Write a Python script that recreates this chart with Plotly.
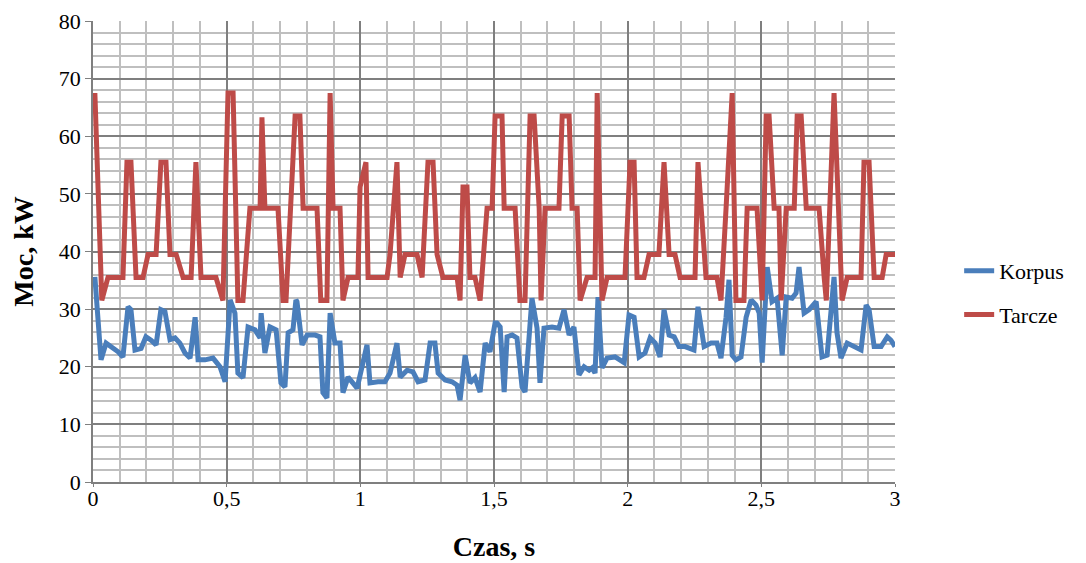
import plotly.graph_objects as go

# Korpus (blue) series: time [s], power [kW]
korpus_t = [0.007, 0.030, 0.049, 0.067, 0.094, 0.112, 0.131, 0.142, 0.157, 0.180, 0.198, 0.217, 0.236,
            0.254, 0.269, 0.288, 0.307, 0.325, 0.344, 0.363, 0.382, 0.393, 0.419, 0.449, 0.475, 0.494,
            0.513, 0.531, 0.542, 0.561, 0.580, 0.606, 0.625, 0.629, 0.643, 0.662, 0.685, 0.703, 0.718,
            0.730, 0.748, 0.759, 0.763, 0.782, 0.801, 0.831, 0.849, 0.860, 0.875, 0.887, 0.905, 0.924,
            0.935, 0.954, 0.988, 1.025, 1.036, 1.066, 1.092, 1.111, 1.137, 1.149, 1.175, 1.197, 1.216,
            1.242, 1.261, 1.279, 1.291, 1.317, 1.343, 1.362, 1.373, 1.392, 1.410, 1.429, 1.448, 1.467,
            1.485, 1.504, 1.511, 1.523, 1.538, 1.549, 1.568, 1.586, 1.605, 1.616, 1.642, 1.661, 1.672,
            1.687, 1.717, 1.743, 1.762, 1.781, 1.799, 1.818, 1.837, 1.856, 1.867, 1.878, 1.889, 1.904,
            1.923, 1.953, 1.987, 2.005, 2.024, 2.043, 2.065, 2.084, 2.103, 2.121, 2.136, 2.155, 2.174,
            2.192, 2.215, 2.248, 2.263, 2.286, 2.312, 2.334, 2.349, 2.368, 2.379, 2.391, 2.405, 2.424,
            2.443, 2.462, 2.480, 2.492, 2.503, 2.522, 2.540, 2.559, 2.578, 2.593, 2.615, 2.630, 2.641,
            2.660, 2.679, 2.705, 2.727, 2.746, 2.761, 2.772, 2.783, 2.798, 2.821, 2.847, 2.873, 2.892,
            2.903, 2.922, 2.948, 2.971, 2.985, 3.000]
korpus_p = [35.6, 21.2, 24.1, 23.5, 22.6, 21.7, 30.4, 29.9, 22.9, 23.2, 25.2, 24.6, 23.8,
            29.9, 29.6, 24.7, 25.0, 24.1, 22.4, 21.5, 28.6, 21.2, 21.2, 21.5, 20.0, 17.4,
            31.6, 29.3, 18.9, 18.1, 26.9, 26.4, 25.0, 29.3, 22.4, 26.9, 26.4, 17.2, 16.5,
            25.9, 26.4, 31.6, 31.3, 23.8, 25.5, 25.5, 25.2, 15.5, 14.6, 29.3, 24.1, 24.1,
            15.5, 18.2, 16.3, 23.8, 17.2, 17.4, 17.4, 18.9, 24.1, 18.2, 19.4, 19.1, 17.4,
            17.7, 24.1, 24.1, 18.9, 17.7, 17.4, 16.8, 14.2, 22.0, 17.2, 18.1, 15.6, 24.1,
            22.6, 27.6, 27.6, 26.9, 15.6, 25.2, 25.5, 25.0, 16.5, 15.6, 31.9, 26.7, 17.2,
            26.7, 26.9, 26.7, 29.9, 25.5, 26.9, 18.6, 20.0, 19.4, 19.8, 18.9, 32.1, 19.8,
            21.5, 21.7, 20.7, 29.0, 28.6, 21.7, 22.4, 25.0, 24.1, 21.7, 29.9, 25.5, 25.2,
            23.5, 23.5, 22.9, 30.4, 23.5, 24.1, 24.1, 21.5, 28.6, 35.1, 22.0, 21.2, 21.7,
            28.6, 31.6, 30.7, 29.3, 20.7, 37.3, 31.3, 31.9, 22.0, 32.1, 31.9, 32.8, 37.3,
            29.3, 29.9, 31.3, 21.7, 22.0, 30.4, 35.6, 25.9, 21.5, 24.1, 23.5, 22.9, 30.7,
            29.9, 23.5, 23.5, 25.2, 24.6, 23.5]

# Tarcze (red) series: time [s], power [kW]
tarcze_t = [0.007, 0.033, 0.056, 0.112, 0.127, 0.142, 0.161, 0.187, 0.206, 0.236, 0.254, 0.273, 0.288,
            0.311, 0.337, 0.367, 0.385, 0.404, 0.460, 0.486, 0.505, 0.524, 0.542, 0.561, 0.587, 0.625,
            0.632, 0.643, 0.692, 0.711, 0.722, 0.737, 0.756, 0.774, 0.786, 0.838, 0.852, 0.875, 0.887,
            0.898, 0.924, 0.935, 0.954, 0.991, 0.999, 1.021, 1.029, 1.100, 1.111, 1.137, 1.149, 1.167,
            1.212, 1.231, 1.253, 1.272, 1.287, 1.309, 1.362, 1.373, 1.384, 1.399, 1.410, 1.429, 1.448,
            1.474, 1.493, 1.504, 1.530, 1.538, 1.579, 1.597, 1.616, 1.635, 1.650, 1.669, 1.676, 1.691,
            1.743, 1.755, 1.781, 1.792, 1.811, 1.822, 1.848, 1.878, 1.886, 1.904, 1.923, 1.990, 2.009,
            2.024, 2.035, 2.061, 2.080, 2.117, 2.136, 2.155, 2.177, 2.196, 2.252, 2.263, 2.293, 2.334,
            2.349, 2.368, 2.391, 2.405, 2.435, 2.447, 2.484, 2.503, 2.518, 2.529, 2.548, 2.566, 2.574,
            2.593, 2.623, 2.634, 2.649, 2.668, 2.716, 2.735, 2.743, 2.772, 2.802, 2.821, 2.873, 2.884,
            2.903, 2.922, 2.952, 2.967, 3.000]
tarcze_p = [67.5, 31.5, 35.5, 35.5, 55.5, 55.5, 35.5, 35.5, 39.5, 39.5, 55.5, 55.5, 39.5,
            39.5, 35.5, 35.5, 55.5, 35.5, 35.5, 31.5, 67.5, 67.5, 31.5, 31.5, 47.5, 47.5,
            63.3, 47.5, 47.5, 31.5, 31.5, 47.5, 63.5, 63.5, 47.5, 47.5, 31.5, 31.5, 67.5,
            47.5, 47.5, 31.5, 35.5, 35.5, 51.2, 55.5, 35.5, 35.5, 39.5, 55.5, 35.5, 39.5,
            39.5, 35.5, 55.5, 55.5, 39.5, 35.5, 35.5, 31.5, 51.2, 51.2, 35.5, 35.5, 31.5,
            47.5, 47.5, 63.5, 63.5, 47.5, 47.5, 31.5, 31.5, 63.5, 63.5, 47.5, 31.5, 47.5,
            47.5, 63.5, 63.5, 47.5, 47.5, 31.5, 35.5, 35.5, 67.5, 31.5, 35.5, 35.5, 55.5,
            55.5, 35.5, 35.5, 39.5, 39.5, 55.5, 39.5, 39.5, 35.5, 35.5, 55.5, 35.5, 35.5,
            31.5, 47.5, 67.5, 31.5, 31.5, 47.5, 47.5, 31.5, 63.5, 63.5, 47.5, 47.5, 31.5,
            47.5, 47.5, 63.5, 63.5, 47.5, 47.5, 35.5, 31.5, 67.5, 31.5, 35.5, 35.5, 55.5,
            55.5, 35.5, 35.5, 39.5, 39.5]

x_tickvals = [0, 0.5, 1, 1.5, 2, 2.5, 3]
x_ticktext = ["0", "0,5", "1", "1,5", "2", "2,5", "3"]
y_tickvals = [0, 10, 20, 30, 40, 50, 60, 70, 80]

FONT = "Liberation Serif"
BLUE = "#4A7EBB"
RED = "#BE4B48"

fig = go.Figure()
fig.add_trace(go.Scatter(x=korpus_t, y=korpus_p, mode="lines", name="Korpus",
                         legendgroup="a", line=dict(color=BLUE, width=5)))
fig.add_trace(go.Scatter(x=tarcze_t, y=tarcze_p, mode="lines", name="Tarcze",
                         legendgroup="b", line=dict(color=RED, width=5)))

fig.update_layout(
    width=1078, height=555,
    margin=dict(l=85, r=191, t=13, b=81),
    paper_bgcolor="white", plot_bgcolor="white",
    font=dict(family=FONT, size=22, color="black"),
    legend=dict(x=1.08, y=0.41, xanchor="left", yanchor="middle",
                traceorder="grouped", tracegroupgap=12,
                font=dict(family=FONT, size=22, color="black")),
    xaxis=dict(range=[0, 3], tickvals=x_tickvals, ticktext=x_ticktext,
               automargin=False,
               showgrid=True, gridcolor="#7F7F7F", gridwidth=1.5,
               minor=dict(dtick=0.1, showgrid=True, gridcolor="#BFBFBF", gridwidth=2),
               showline=True, linecolor="#7F7F7F", linewidth=1.5,
               ticks="outside", ticklen=3, tickcolor="#7F7F7F",
               zeroline=False,
               title=dict(text="<b>Czas, s</b>", standoff=26,
                          font=dict(family=FONT, size=28))),
    yaxis=dict(range=[0, 80], tickvals=y_tickvals,
               automargin=False,
               showgrid=True, gridcolor="#7F7F7F", gridwidth=1.5,
               minor=dict(dtick=2, showgrid=True, gridcolor="#BFBFBF", gridwidth=2),
               showline=True, linecolor="#7F7F7F", linewidth=1.5,
               ticks="outside", ticklen=6, tickcolor="#7F7F7F",
               zeroline=False,
               title=dict(text="<b>Moc, kW</b>", standoff=20,
                          font=dict(family=FONT, size=28))),
)

try:
    fig.update_xaxes(ticklabelstandoff=-7)
except Exception:
    pass

fig.write_html("out.html")
